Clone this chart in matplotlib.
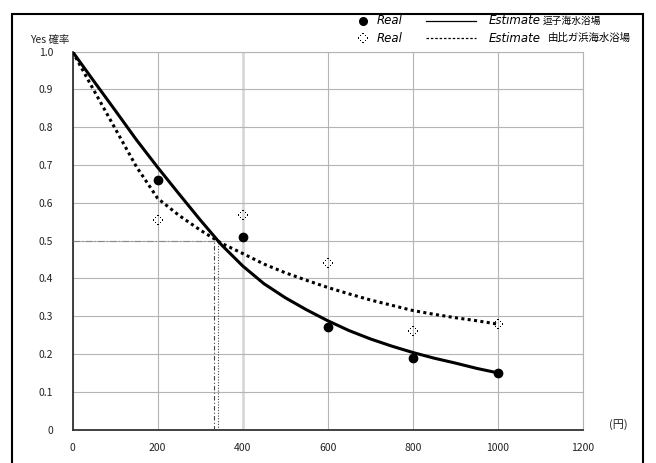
import numpy as np
import matplotlib
matplotlib.use('Agg')
import matplotlib.pyplot as plt
from matplotlib.lines import Line2D
from matplotlib.patches import Rectangle
from matplotlib.path import Path

plt.rcParams['font.family'] = ['Noto Sans CJK JP', 'DejaVu Sans']

# observed answers (Yes ratio) per price
price = [200, 400, 600, 800, 1000]
real_zushi = [0.66, 0.509, 0.272, 0.19, 0.149]
real_yui = [0.554, 0.568, 0.44, 0.262, 0.279]

# estimated curves
est_x = [0, 50, 100, 150, 200, 250, 300, 350, 400, 450, 500,
         550, 600, 650, 700, 750, 800, 850, 900, 950, 1000]
est_zushi = [1.000, 0.922, 0.845, 0.767, 0.694, 0.624, 0.555, 0.489, 0.433, 0.386, 0.349,
             0.317, 0.288, 0.262, 0.240, 0.221, 0.204, 0.189, 0.176, 0.162, 0.150]
est_yui = [1.000, 0.898, 0.797, 0.696, 0.612, 0.567, 0.528, 0.493, 0.466, 0.438, 0.415,
           0.395, 0.376, 0.359, 0.343, 0.329, 0.315, 0.305, 0.296, 0.288, 0.279]

# price where each estimate reaches 0.5
half_y = 0.5
cross_x = [332, 342]

xticks = [0, 200, 400, 600, 800, 1000, 1200]
yticks = [0, 0.1, 0.2, 0.3, 0.4, 0.5, 0.6, 0.7, 0.8, 0.9, 1.0]
ylabels = ['0', '0.1', '0.2', '0.3', '0.4', '0.5', '0.6', '0.7', '0.8', '0.9', '1.0']

# dotted diamond marker
pts = [(0, 1), (0.5, 0.5), (1, 0), (0.5, -0.5), (0, -1), (-0.5, -0.5), (-1, 0), (-0.5, 0.5)]
verts = []
codes = []
d = 0.14
for px, py in pts:
    verts += [(px-d, py-d), (px+d, py-d), (px+d, py+d), (px-d, py+d), (px-d, py-d)]
    codes += [Path.MOVETO, Path.LINETO, Path.LINETO, Path.LINETO, Path.CLOSEPOLY]
dmark = Path(verts, codes)

W, H = 656, 463
fig = plt.figure(figsize=(W/100, H/100), dpi=100)
ax = fig.add_axes([72.5/W, 1-429.6/H, (583-72.5)/W, (429.6-51.6)/H])

ax.plot(est_x, est_zushi, color='black', lw=2.2, solid_capstyle='round', zorder=4)
ax.plot(est_x, est_yui, color='black', lw=2.2, linestyle=(0, (1, 1.1)), zorder=4)
ax.plot(price, real_zushi, 'o', color='black', ms=6, zorder=5)
ax.plot(price, real_yui, linestyle='none', marker=dmark, ms=7, color='black',
        markeredgewidth=0, zorder=5)

# guide lines at 0.5
ax.plot([0, np.mean(cross_x)], [half_y, half_y], color='#888888', lw=0.8,
        linestyle=(0, (6, 2, 1, 2)), zorder=3)
ax.plot([cross_x[0], cross_x[0]], [0, half_y], color='#444444', lw=0.8,
        linestyle=(0, (4, 2, 1, 2)), zorder=3)
ax.plot([cross_x[1], cross_x[1]], [0, half_y], color='#444444', lw=0.8,
        linestyle=(0, (1, 1.5)), zorder=3)

ax.set_xlim(0, 1200)
ax.set_ylim(0, 1.0)
ax.set_xticks(xticks)
ax.set_yticks(yticks)
ax.set_yticklabels(ylabels)
ax.tick_params(length=0, labelsize=7.5, colors='#222222')
ax.tick_params(axis='x', pad=10)
ax.tick_params(axis='y', pad=14)
ax.grid(True, color='#b4b4b4', lw=0.8)
ax.get_xgridlines()[2].set(color='#d8d8d8', lw=2)
for s in ['top', 'right']:
    ax.spines[s].set_color('#b4b4b4')
    ax.spines[s].set_linewidth(0.8)
for s in ['left', 'bottom']:
    ax.spines[s].set_color('#333333')
    ax.spines[s].set_linewidth(1.3)

fig.text(50/W, 1-40/H, 'Yes 確率', fontsize=7.5, ha='center', va='center', color='#222222')
fig.text(618/W, 1-425/H, '(円)', fontsize=8, ha='center', va='center', color='#222222')

# legend drawn by hand
rows = [21/H, 38/H]
fig.add_artist(Line2D([363/W], [1-rows[0]], marker='o', ms=5.5, color='black',
                      transform=fig.transFigure))
fig.add_artist(Line2D([363/W], [1-rows[1]], marker=dmark, ms=7, color='black',
                      markeredgewidth=0, transform=fig.transFigure))
fig.add_artist(Line2D([426/W, 476/W], [1-rows[0]]*2, color='black', lw=0.9,
                      transform=fig.transFigure))
fig.add_artist(Line2D([426/W, 476/W], [1-rows[1]]*2, color='black', lw=0.9,
                      linestyle=(0, (2, 1.5)), transform=fig.transFigure))
for r in rows:
    fig.text(377/W, 1-r, 'Real', fontsize=8.5, va='center', style='italic',
             family='DejaVu Sans')
    fig.text(489/W, 1-r, 'Estimate', fontsize=8.5, va='center', style='italic',
             family='DejaVu Sans')
fig.text(543/W, 1-rows[0], '逗子海水浴場', fontsize=7, va='center')
fig.text(548/W, 1-rows[1], '由比ガ浜海水浴場', fontsize=7.5, va='center')

fig.add_artist(Rectangle((11.5/W, -0.02), (642.5-11.5)/W, 1.005-7/H,
                         fill=False, lw=1.5, edgecolor='black',
                         transform=fig.transFigure))

plt.savefig('out.png', dpi=100)
